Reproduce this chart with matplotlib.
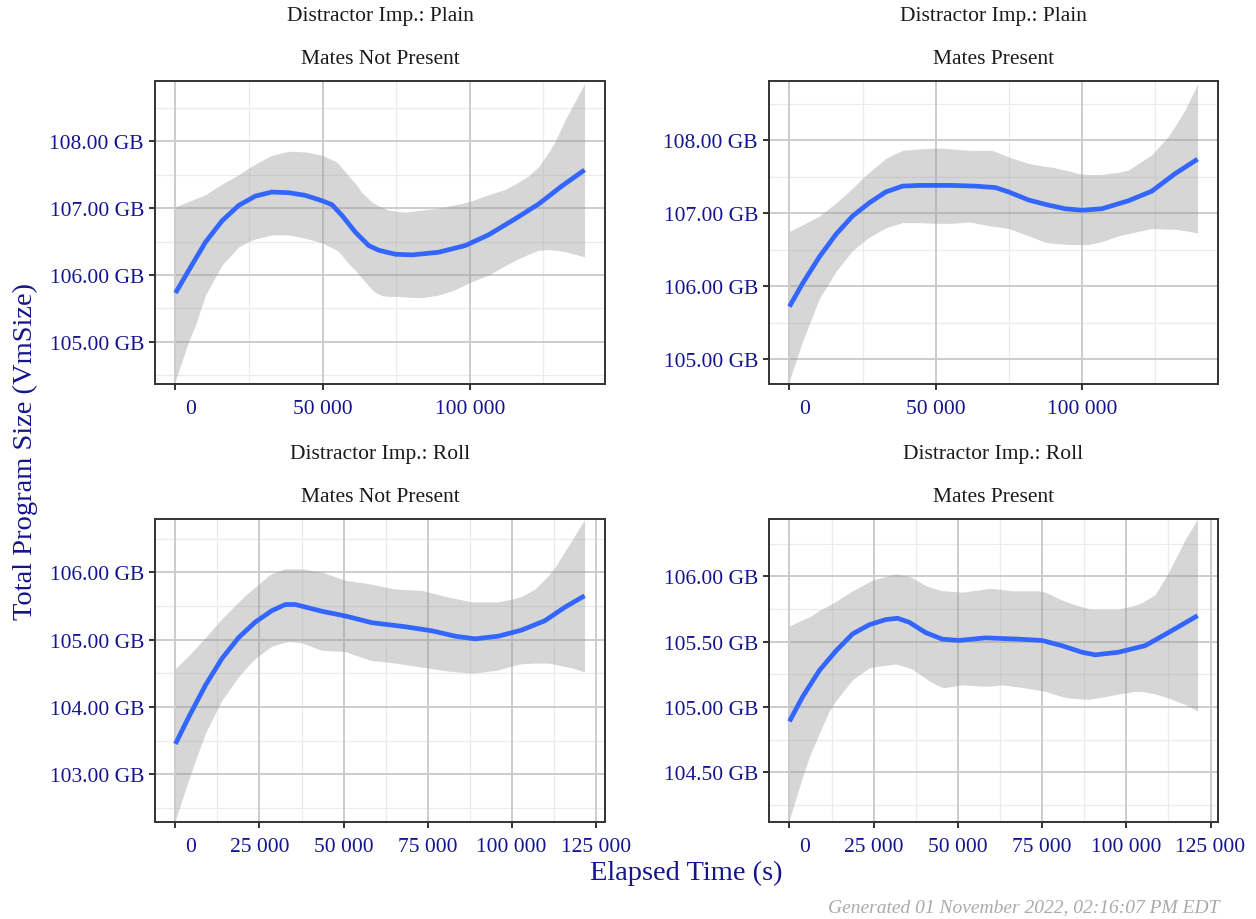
import numpy as np
import matplotlib
matplotlib.use("Agg")
import matplotlib.pyplot as plt
from matplotlib.ticker import FixedLocator, FuncFormatter
import matplotlib.transforms as mtransforms

plt.rcParams['font.family'] = ['Liberation Serif', 'DejaVu Serif']

# ---------------- data ----------------
facet_rows = ["Distractor Imp.: Plain", "Distractor Imp.: Roll"]
facet_cols = ["Mates Not Present", "Mates Present"]

# Plain / Mates Not Present : fitted line
tl_x = [0, 4530, 10190, 15850, 21510, 27170, 32830, 38490, 44150, 49810, 53210, 56600, 61140, 65670,
        69060, 74720, 80380, 89430, 98490, 106420, 115480, 123410, 131330, 139030]
tl_fit = [105.73, 106.07, 106.49, 106.81, 107.04, 107.18, 107.24, 107.23, 107.19, 107.11, 107.05, 106.89,
          106.64, 106.44, 106.37, 106.31, 106.30, 106.34, 106.44, 106.60, 106.84, 107.06, 107.33, 107.57]
# Plain / Mates Not Present : confidence band
tl_bx = [0, 4530, 6790, 10190, 15850, 21510, 24910, 27170, 32830, 38490, 44150, 49810, 54340, 55470,
         58860, 61140, 63400, 66790, 67930, 70190, 72460, 75850, 78110, 83780, 89430, 95100, 97360,
         100750, 106420, 112070, 115480, 120000, 123410, 126790, 129070, 132460, 139030]
tl_hi = [107.02, 107.10, 107.14, 107.20, 107.36, 107.50, 107.60, 107.66, 107.79, 107.85, 107.84, 107.79,
         107.70, 107.66, 107.48, 107.37, 107.23, 107.09, 107.06, 107.01, 106.97, 106.95, 106.94, 106.97,
         107.00, 107.05, 107.07, 107.11, 107.20, 107.28, 107.36, 107.48, 107.62, 107.83, 108.00, 108.32,
         108.86]
tl_lo = [104.42, 105.01, 105.25, 105.70, 106.15, 106.42, 106.50, 106.54, 106.60, 106.60, 106.55, 106.48,
         106.38, 106.35, 106.17, 106.07, 105.95, 105.78, 105.74, 105.69, 105.68, 105.68, 105.67, 105.66,
         105.70, 105.78, 105.83, 105.90, 106.00, 106.14, 106.22, 106.31, 106.37, 106.38, 106.37, 106.35,
         106.27]

# Plain / Mates Present
tr_x = [0, 4540, 10220, 15900, 21570, 27250, 32930, 38610, 44280, 55640, 63590, 70400, 74940, 81750,
        87440, 94250, 99930, 106740, 115830, 123780, 131730, 139450]
tr_fit = [105.72, 106.04, 106.40, 106.71, 106.96, 107.14, 107.29, 107.37, 107.38, 107.38, 107.37, 107.35,
          107.29, 107.18, 107.12, 107.06, 107.04, 107.06, 107.17, 107.30, 107.54, 107.74]
tr_bx = [0, 4540, 6810, 10220, 15900, 21570, 24990, 27250, 32930, 38610, 44280, 49970, 52230, 55640,
         61320, 68130, 69270, 74940, 81750, 87440, 89700, 95390, 98790, 102200, 106740, 112410, 115830,
         123780, 129460, 131730, 135140, 139450]
tr_hi = [106.75, 106.84, 106.89, 106.96, 107.14, 107.34, 107.48, 107.56, 107.75, 107.86, 107.88, 107.89,
         107.89, 107.88, 107.86, 107.86, 107.86, 107.77, 107.68, 107.64, 107.63, 107.58, 107.54, 107.53,
         107.53, 107.56, 107.59, 107.80, 108.05, 108.19, 108.41, 108.77]
tr_lo = [104.71, 105.25, 105.48, 105.83, 106.20, 106.49, 106.60, 106.67, 106.80, 106.87, 106.87, 106.86,
         106.86, 106.86, 106.88, 106.83, 106.82, 106.79, 106.69, 106.60, 106.59, 106.57, 106.57, 106.57,
         106.61, 106.69, 106.72, 106.79, 106.78, 106.78, 106.76, 106.73]

# Roll / Mates Not Present
bl_x = [0, 3960, 8910, 13860, 18810, 23770, 28720, 32680, 35650, 43570, 50510, 58430, 68330, 76250,
        83180, 89120, 96060, 102980, 109920, 115860, 121700]
bl_fit = [103.45, 103.85, 104.32, 104.72, 105.03, 105.26, 105.43, 105.52, 105.52, 105.42, 105.35, 105.25,
          105.19, 105.13, 105.05, 105.01, 105.05, 105.14, 105.28, 105.48, 105.65]
bl_bx = [0, 3960, 5940, 8910, 13860, 18810, 21780, 23770, 27720, 28720, 32680, 33660, 37630, 43570,
         50510, 57440, 58430, 65360, 73280, 81200, 88140, 95070, 96060, 101000, 102980, 106950, 110910,
         112890, 117840, 121700]
bl_hi = [104.57, 104.76, 104.87, 105.03, 105.31, 105.56, 105.70, 105.78, 105.95, 105.98, 106.05, 106.05,
         106.05, 106.00, 105.88, 105.83, 105.82, 105.75, 105.73, 105.63, 105.56, 105.56, 105.56, 105.61,
         105.64, 105.75, 105.95, 106.07, 106.47, 106.78]
bl_lo = [102.32, 102.92, 103.20, 103.61, 104.10, 104.45, 104.62, 104.72, 104.87, 104.90, 104.96, 104.97,
         104.95, 104.84, 104.82, 104.70, 104.69, 104.65, 104.59, 104.53, 104.50, 104.54, 104.55, 104.62,
         104.64, 104.65, 104.65, 104.63, 104.58, 104.52]

# Roll / Mates Present
br_x = [0, 3950, 8880, 13810, 18750, 23680, 28610, 32060, 35520, 40450, 45380, 50320, 58210, 68080,
        74980, 80900, 86820, 90770, 97670, 105570, 112470, 121150]
br_fit = [104.89, 105.08, 105.28, 105.43, 105.56, 105.63, 105.67, 105.68, 105.65, 105.57, 105.52, 105.51,
          105.53, 105.52, 105.51, 105.47, 105.42, 105.40, 105.42, 105.47, 105.57, 105.70]
br_bx = [0, 3950, 5920, 8880, 11840, 13810, 18750, 23680, 25650, 31570, 35520, 36500, 40450, 41440,
         45380, 46370, 51300, 57220, 59190, 63140, 66100, 69060, 74000, 75970, 80900, 82870, 87800,
         89290, 95700, 97670, 102610, 104580, 108530, 112470, 113460, 117410, 121150]
br_hi = [105.62, 105.67, 105.69, 105.74, 105.78, 105.81, 105.89, 105.96, 105.98, 106.02, 106.00, 105.99,
         105.93, 105.92, 105.89, 105.89, 105.88, 105.90, 105.91, 105.90, 105.89, 105.89, 105.89, 105.88,
         105.82, 105.80, 105.76, 105.75, 105.75, 105.75, 105.78, 105.80, 105.86, 106.03, 106.08, 106.28,
         106.44]
br_lo = [104.14, 104.47, 104.62, 104.80, 104.97, 105.05, 105.21, 105.30, 105.31, 105.33, 105.30, 105.29,
         105.22, 105.20, 105.15, 105.15, 105.17, 105.16, 105.16, 105.17, 105.16, 105.15, 105.13, 105.12,
         105.08, 105.07, 105.06, 105.06, 105.09, 105.10, 105.12, 105.12, 105.10, 105.07, 105.06, 105.02,
         104.97]

panels = [
    (tl_x, tl_fit, tl_bx, tl_lo, tl_hi),
    (tr_x, tr_fit, tr_bx, tr_lo, tr_hi),
    (bl_x, bl_fit, bl_bx, bl_lo, bl_hi),
    (br_x, br_fit, br_bx, br_lo, br_hi),
]

y_major = [[105, 106, 107, 108], [105, 106, 107, 108], [103, 104, 105, 106], [104.5, 105.0, 105.5, 106.0]]
y_limits = [(104.37, 108.90), (104.66, 108.81), (102.29, 106.79), (104.12, 106.44)]
x_major = [[0, 50000, 100000], [0, 50000, 100000],
           [0, 25000, 50000, 75000, 100000, 125000], [0, 25000, 50000, 75000, 100000, 125000]]

# ---------------- style ----------------
W, H = 1256, 920
fig = plt.figure(figsize=(W / 100, H / 100), dpi=100)
TXT = '#14148f'
LINE = '#3366FF'

boxes = [(155, 605, 82, 385), (769, 1218, 82, 385), (155, 605, 520, 823), (769, 1218, 520, 823)]

def fmt_x(v, pos):
    return f"{int(round(v)):,}".replace(",", " ")

def fmt_y(v, pos):
    return f"{v:.2f} GB"

for i, (bx, (x, fit, bxs, lo, hi)) in enumerate(zip(boxes, panels)):
    l, r, t, b = bx
    ax = fig.add_axes([l / W, 1 - b / H, (r - l) / W, (b - t) / H])
    x = np.asarray(x, float)
    span = x.max() - x.min()
    ax.set_xlim(x.min() - 0.05 * span, x.max() + 0.05 * span)
    ax.set_ylim(*y_limits[i])
    ym = y_major[i]
    step = ym[1] - ym[0]
    ymin = [ym[0] - step / 2 + k * step for k in range(len(ym) + 1)]
    xm = x_major[i]
    xstep = xm[1] - xm[0]
    xmin = [xm[0] + xstep / 2 + k * xstep for k in range(len(xm))]
    for v in ymin:
        ax.axhline(v, color='#ebebeb', lw=0.9, zorder=0)
    for v in xmin:
        ax.axvline(v, color='#ebebeb', lw=0.9, zorder=0)
    for v in ym:
        ax.axhline(v, color='#cccccc', lw=1.4, zorder=0.5)
    for v in xm:
        ax.axvline(v, color='#cccccc', lw=1.4, zorder=0.5)
    ax.fill_between(bxs, lo, hi, color='#999999', alpha=0.4, lw=0, zorder=1)
    ax.plot(x, fit, color=LINE, lw=3.4, zorder=2, solid_capstyle='butt', solid_joinstyle='round')
    ax.xaxis.set_major_locator(FixedLocator(xm))
    ax.yaxis.set_major_locator(FixedLocator(ym))
    ax.xaxis.set_major_formatter(FuncFormatter(fmt_x))
    ax.yaxis.set_major_formatter(FuncFormatter(fmt_y))
    ax.tick_params(axis='both', which='major', length=4, width=1.4, color='#333333',
                   labelcolor=TXT, labelsize=15.5)
    ax.tick_params(axis='x', pad=7)
    ax.tick_params(axis='y', pad=4)
    for s in ax.spines.values():
        s.set_color('#333333')
        s.set_linewidth(1.4)
        s.set_zorder(3)
    # first x label is shifted right in the reference
    lab0 = ax.get_xticklabels()[0]
    off = mtransforms.ScaledTranslation(15 / 100, 0, fig.dpi_scale_trans)
    lab0.set_transform(lab0.get_transform() + off)
    cx = (l + r) / 2 / W
    row, col = divmod(i, 2)
    fig.text(cx, 1 - (t - 65) / H, facet_rows[row], ha='center', va='center', fontsize=15.5, color='#1a1a1a')
    fig.text(cx, 1 - (t - 22) / H, facet_cols[col], ha='center', va='center', fontsize=15.5, color='#1a1a1a')

fig.text(686 / W, 1 - 873 / H, "Elapsed Time (s)", ha='center', va='center', fontsize=20.5, color=TXT)
fig.text(25 / W, 1 - 452 / H, "Total Program Size (VmSize)", ha='center', va='center', rotation=90,
         fontsize=20.5, color=TXT)
fig.text(1220 / W, 1 - 908 / H, "Generated 01 November 2022, 02:16:07 PM EDT", ha='right', va='center',
         fontsize=14, color='#aaaaaa', style='italic')

fig.savefig("out.png", dpi=100)
